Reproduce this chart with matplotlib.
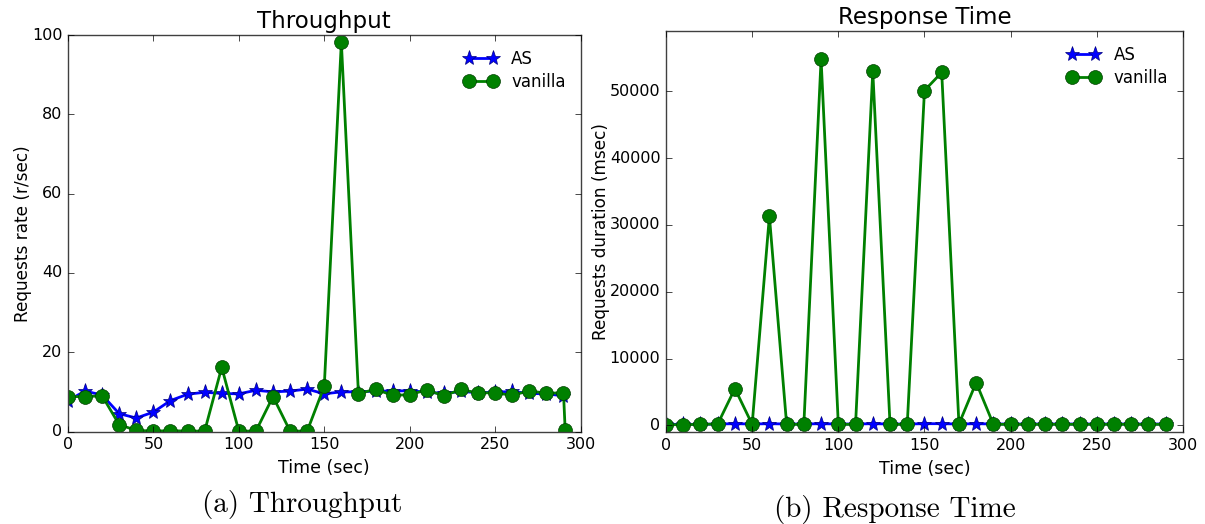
import matplotlib
matplotlib.use("Agg")
import matplotlib.pyplot as plt

# sample times (sec)
time = [0, 10, 20, 30, 40, 50, 60, 70, 80, 90, 100, 110, 120, 130, 140,
        150, 160, 170, 180, 190, 200, 210, 220, 230, 240, 250, 260, 270, 280, 290]
time_vanilla_tp = time + [291]

# throughput (r/sec)
as_rate = [7.8, 10.2, 9.2, 4.5, 3.4, 4.9, 7.8, 9.4, 9.9, 9.6, 9.5, 10.4, 10.0, 10.2, 10.7,
           9.5, 10.0, 10.0, 10.2, 10.2, 10.3, 9.9, 9.6, 10.1, 9.8, 9.9, 10.1, 9.6, 9.5, 9.0]
vanilla_rate = [8.8, 8.8, 9.0, 1.7, 0.3, 0.1, 0.2, 0.1, 0.1, 16.2, 0.1, 0.1, 8.8, 0.1, 0.1,
                11.4, 98.2, 9.5, 10.7, 9.1, 9.3, 10.5, 9.0, 10.6, 9.7, 9.8, 9.1, 10.3, 9.6, 9.8, 0.3]

# response time (msec)
as_resp = [150, 150, 150, 200, 250, 200, 250, 200, 200, 250, 200, 200, 250, 200, 200,
           250, 250, 200, 250, 200, 200, 200, 200, 200, 200, 200, 200, 200, 200, 200]
vanilla_resp = [100, 100, 150, 200, 5500, 150, 31300, 150, 150, 54800, 150, 150, 53000, 150, 150,
                50100, 52800, 200, 6400, 150, 150, 150, 150, 150, 150, 150, 150, 150, 150, 150]

x_ticks = [0, 50, 100, 150, 200, 250, 300]
tp_ticks = [0, 20, 40, 60, 80, 100]
resp_ticks = [0, 10000, 20000, 30000, 40000, 50000]

plt.style.use("classic")
plt.rcParams["font.family"] = ["DejaVu Sans"]

fig = plt.figure(figsize=(12.05, 5.24), dpi=100, facecolor="white")
ax1 = fig.add_axes([0.0564, 0.1765, 0.4254, 0.7567])
ax2 = fig.add_axes([0.5527, 0.1755, 0.4290, 0.7653])

style_as = dict(color="b", marker="*", markersize=11, linewidth=2, markeredgewidth=0.5,
                markeredgecolor="#00007f", label="AS")
style_van = dict(color="g", marker="o", markersize=10, linewidth=2, markeredgewidth=0.5,
                 markeredgecolor="#004000", label="vanilla")

ax1.plot(time, as_rate, **style_as)
ax1.plot(time_vanilla_tp, vanilla_rate, **style_van)
ax1.set_xlim(0, 300)
ax1.set_ylim(0, 100)
ax1.set_xticks(x_ticks)
ax1.set_yticks(tp_ticks)
ax1.set_title("Throughput", fontsize=16.5)
ax1.set_xlabel("Time (sec)", fontsize=12.5)
ax1.set_ylabel("Requests rate (r/sec)", fontsize=12.2, labelpad=0)

ax2.plot(time, as_resp, **style_as)
ax2.plot(time, vanilla_resp, **style_van)
ax2.set_xlim(0, 300)
ax2.set_ylim(-1000, 59000)
ax2.set_xticks(x_ticks)
ax2.set_yticks(resp_ticks)
ax2.set_title("Response Time", fontsize=16.5)
ax2.set_xlabel("Time (sec)", fontsize=12.5)
ax2.set_ylabel("Requests duration (msec)", fontsize=12.2, labelpad=0)

for ax in (ax1, ax2):
    ax.tick_params(labelsize=11.5, direction="in", length=4, top=True, right=True)
    for sp in ax.spines.values():
        sp.set_color("#404040")
    ax.legend(loc="upper right", frameon=False, numpoints=2, fontsize=12, labelspacing=0.3)

fig.text(0.251, 0.023, "(a) Throughput", ha="center", fontsize=21, family="cmr10")
fig.text(0.743, 0.013, "(b) Response Time", ha="center", fontsize=21, family="cmr10")

fig.savefig("out.png", dpi=100, facecolor="white")
